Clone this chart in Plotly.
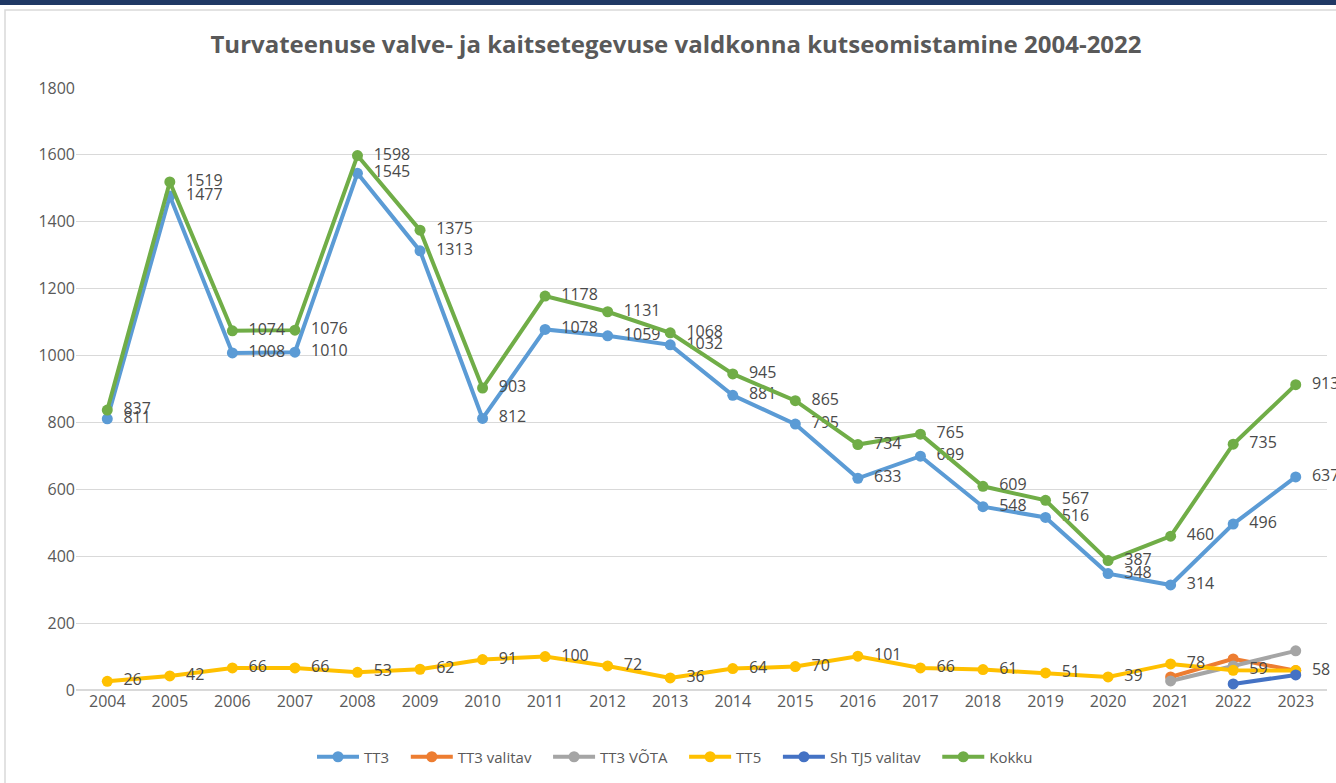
import plotly.graph_objects as go

# Aastad (kategooriad)
years = [str(y) for y in range(2004, 2024)]

# Seeriate väärtused, loetud pildilt
tt3 = [811, 1477, 1008, 1010, 1545, 1313, 812, 1078, 1059, 1032,
       881, 795, 633, 699, 548, 516, 348, 314, 496, 637]
tt5 = [26, 42, 66, 66, 53, 62, 91, 100, 72, 36,
       64, 70, 101, 66, 61, 51, 39, 78, 59, 58]
kokku = [837, 1519, 1074, 1076, 1598, 1375, 903, 1178, 1131, 1068,
         945, 865, 734, 765, 609, 567, 387, 460, 735, 913]
tt3_valitav_years = ["2021", "2022", "2023"]
tt3_valitav = [39, 93, 58]
tt3_vota_years = ["2021", "2022", "2023"]
tt3_vota = [27, 72, 117]
sh_tj5_years = ["2022", "2023"]
sh_tj5 = [18, 45]

FONT = "Open Sans"
GREY_TEXT = "#595959"
NBSP = "\u00a0"


def line(x, y, name, color, labels=False):
    return go.Scatter(
        x=x, y=y, name=name + NBSP * 3,
        mode="lines+markers+text" if labels else "lines+markers",
        line=dict(color=color, width=4),
        marker=dict(color=color, size=11),
        # tühikud ees, et silt jääks punktist veidi paremale
        text=[NBSP * 2 + str(v) for v in y] if labels else None,
        textposition="middle right",
        textfont=dict(family=FONT, size=16, color="#4a4a4a"),
        cliponaxis=False,
    )


fig = go.Figure()
fig.add_trace(line(years, tt3, "TT3", "#5B9BD5", labels=True))
fig.add_trace(line(tt3_valitav_years, tt3_valitav, "TT3 valitav", "#ED7D31"))
fig.add_trace(line(tt3_vota_years, tt3_vota, "TT3 VÕTA", "#A5A5A5"))
fig.add_trace(line(years, tt5, "TT5", "#FFC000", labels=True))
fig.add_trace(line(sh_tj5_years, sh_tj5, "Sh TJ5 valitav", "#4472C4"))
fig.add_trace(line(years, kokku, "Kokku", "#70AD47", labels=True))

# Raam: tumesinine riba üleval ja hall piirjoon diagrammi ümber
W, H, L, R, T, B = 1336, 783, 76, 9, 88, 93
pw, ph = W - L - R, H - T - B


def px(x):
    return (x - L) / pw


def py(y):
    return (H - B - y) / ph


fig.add_shape(type="rect", xref="paper", yref="paper",
              x0=px(-5), x1=px(W + 5), y0=py(5), y1=py(-5),
              fillcolor="#1F3864", line_width=0, layer="above")
fig.add_shape(type="rect", xref="paper", yref="paper",
              x0=px(5), x1=px(W + 20), y0=py(W), y1=py(10),
              fillcolor="rgba(0,0,0,0)", line=dict(color="#D9D9D9", width=1.5))

fig.update_layout(
    width=W, height=H,
    margin=dict(l=L, r=R, t=T, b=B),
    paper_bgcolor="white", plot_bgcolor="white",
    font=dict(family=FONT, color=GREY_TEXT),
    title=dict(text="<b>Turvateenuse valve- ja kaitsetegevuse valdkonna kutseomistamine 2004-2022</b>",
               x=676 / W, xref="container", xanchor="center",
               y=1 - 45 / H, yanchor="middle",
               font=dict(family=FONT, size=24, color=GREY_TEXT)),
    xaxis=dict(type="category", range=[-0.5, len(years) - 0.5], showgrid=False,
               showline=False, ticks="", tickfont=dict(size=16, color=GREY_TEXT)),
    yaxis=dict(range=[0, 1800], dtick=200, showgrid=True, gridcolor="#D9D9D9",
               gridwidth=1, zeroline=True, zerolinecolor="#D9D9D9", ticks="",
               tickfont=dict(size=16, color=GREY_TEXT)),
    legend=dict(orientation="h", x=px(681), xanchor="center", y=py(757), yanchor="middle",
                itemwidth=42, font=dict(size=15, color=GREY_TEXT)),
    showlegend=True,
)

# Lehe vaikimisi 8px veeris ära, et joonis algaks akna nurgast
fig.write_html("out.html", config={"displayModeBar": False},
               post_script="document.body.style.margin='0';")
